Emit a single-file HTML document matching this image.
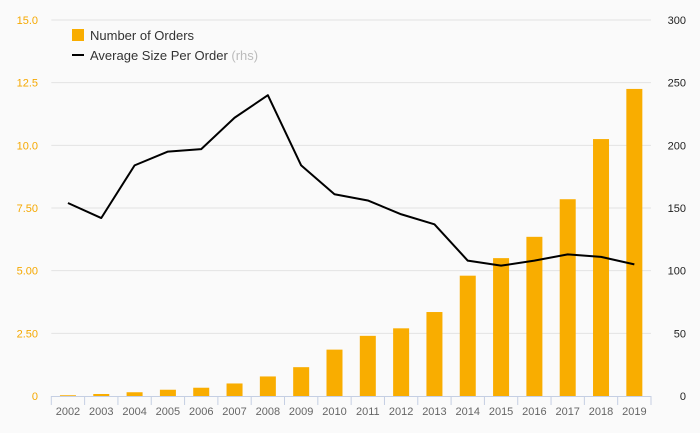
<!DOCTYPE html>
<html><head><meta charset="utf-8"><style>
body{margin:0;background:#fafafa;}
svg{display:block;font-family:"Liberation Sans",sans-serif;}
</style></head><body>
<svg id="c" width="700" height="433">
<rect width="700" height="433" fill="#fafafa"/>
<g id="grid"></g><g id="bars"></g><g id="line"></g><g id="axes"></g>
<g>
<rect x="72" y="29" width="12" height="12" fill="#f9ad00"/>
<text x="90" y="40" font-size="13" fill="#333">Number of Orders</text>
<line x1="72" y1="55" x2="84" y2="55" stroke="#000" stroke-width="2"/>
<text x="90" y="60" font-size="13" fill="#333">Average Size Per Order <tspan fill="#bbb">(rhs)</tspan></text>
</g>
</svg>
<script>
const years=["2002","2003","2004","2005","2006","2007","2008","2009","2010","2011","2012","2013","2014","2015","2016","2017","2018","2019"];
const orders=[0.03,0.08,0.15,0.25,0.33,0.5,0.78,1.15,1.85,2.4,2.7,3.35,4.8,5.5,6.35,7.85,10.25,12.25];
const avgSize=[154,142,184,195,197,222,240,184,161,156,145,137,108,104,108,113,111,105];
const leftTicks=[0,2.5,5,7.5,10,12.5,15];
const leftLabels=["0","2.50","5.00","7.50","10.0","12.5","15.0"];
const rightTicks=[0,50,100,150,200,250,300];
const NS="http://www.w3.org/2000/svg";
const x0=51.3,x1=651,y0=396,y1=20;
const bw=(x1-x0)/years.length;
const xc=i=>x0+bw*(i+0.5);
const yL=v=>y0-(v/15)*(y0-y1);
const yR=v=>y0-(v/300)*(y0-y1);
function mk(t,a,p){const e=document.createElementNS(NS,t);for(const k in a)e.setAttribute(k,a[k]);p.appendChild(e);return e;}
const grid=document.getElementById('grid'),bars=document.getElementById('bars'),line=document.getElementById('line'),axes=document.getElementById('axes');
leftTicks.forEach((v,i)=>{
 if(v>0){const g=mk('line',{x1:x0,x2:x1,y1:yL(v),y2:yL(v),stroke:'#e3e3e3','stroke-width':1},grid);
 
 }
 const t=mk('text',{x:38,y:yL(v)+4,'text-anchor':'end','font-size':11,fill:'#f5a800'},axes);t.textContent=leftLabels[i];
 
 
});
rightTicks.forEach(v=>{
 const t=mk('text',{x:686,y:yR(v)+4,'text-anchor':'end','font-size':11,fill:'#222'},axes);t.textContent=v;
 
 
});
orders.forEach((v,i)=>{
 const r=mk('rect',{x:xc(i)-8,y:yL(v),width:16,height:y0-yL(v),fill:'#f9ad00'},bars);
 
 
});
const base=mk('line',{x1:x0,x2:x1,y1:y0+0.5,y2:y0+0.5,stroke:'#c5cfe3','stroke-width':1},axes);


for(let i=0;i<=years.length;i++){
 const tk=mk('line',{x1:x0+bw*i,x2:x0+bw*i,y1:y0,y2:y0+9,stroke:'#c5cfe3','stroke-width':1},axes);
 
 
}
years.forEach((y,i)=>{
 const t=mk('text',{x:xc(i),y:415,'text-anchor':'middle','font-size':11,fill:'#666'},axes);t.textContent=y;
 
 
});
const p=mk('polyline',{points:avgSize.map((v,i)=>xc(i)+','+yR(v)).join(' '),fill:'none',stroke:'#000','stroke-width':2,'stroke-linejoin':'round'},line);


</script>
</body></html>
